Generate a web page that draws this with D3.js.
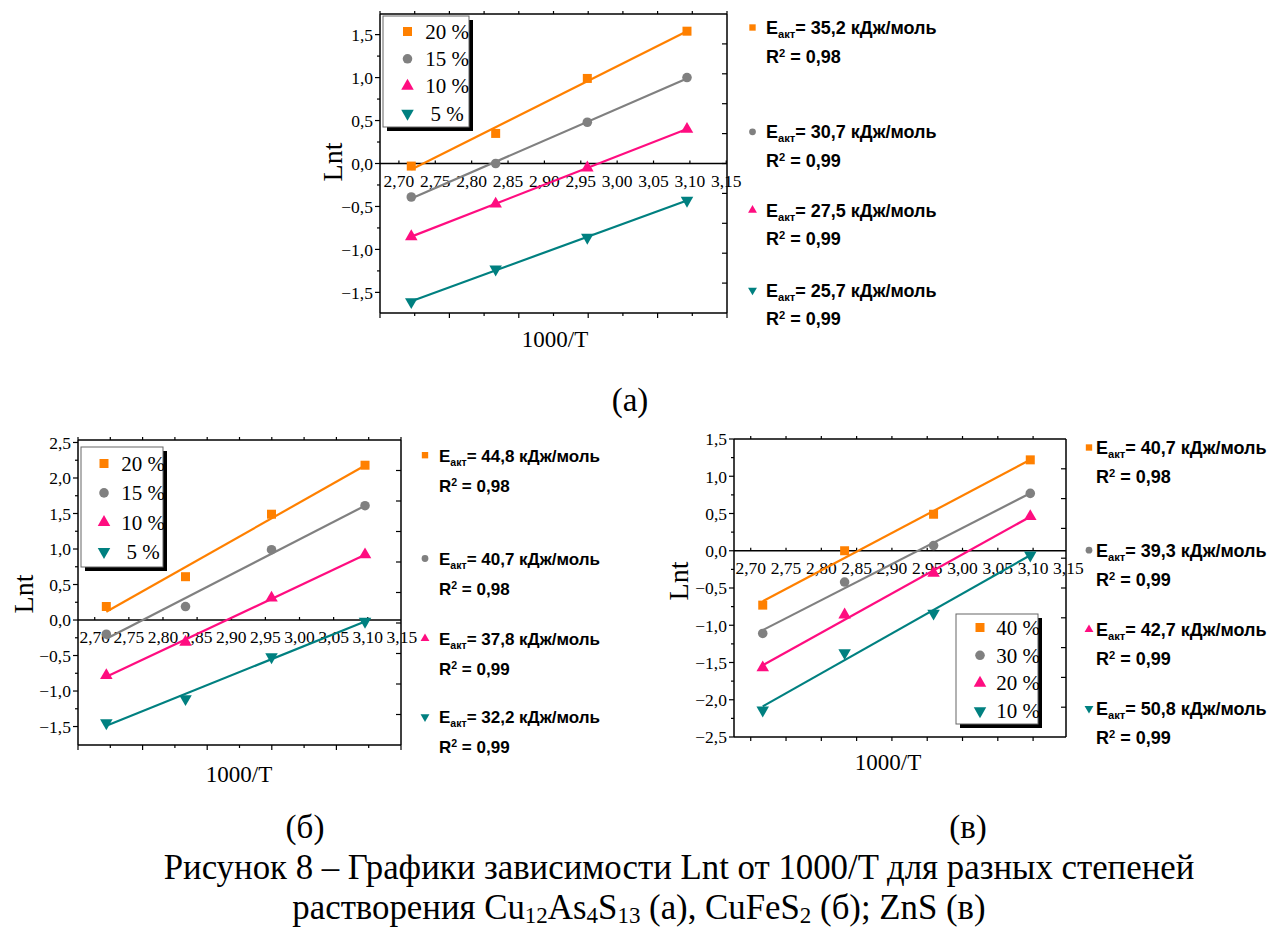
<!DOCTYPE html>
<html>
<head>
<meta charset="utf-8">
<script src="https://cdn.jsdelivr.net/npm/d3@7"></script>
<style>
  html, body { margin: 0; padding: 0; background: #fff; }
  svg { display: block; }
</style>
</head>
<body>
<svg id="fig" width="1267" height="932"></svg>
<script>
// ---- data ----------------------------------------------------------
// reciprocal temperature, 1000/T (K^-1), shared by all three panels
const invT = [2.717, 2.833, 2.959, 3.096];

// (а) Cu12As4S13 — ln t for each dissolution degree
const lnA20 = [-0.03, 0.35, 0.99, 1.54];
const lnA15 = [-0.39, 0.00, 0.48, 1.00];
const lnA10 = [-0.85, -0.47, -0.05, 0.40];
const lnA5  = [-1.61, -1.23, -0.86, -0.43];
const legendA = ["20 %", "15 %", "10 %", "5 %"];
const eaA = ["35,2", "30,7", "27,5", "25,7"];
const r2A = ["0,98", "0,99", "0,99", "0,99"];

// (б) CuFeS2
const lnB20 = [0.19, 0.61, 1.49, 2.18];
const lnB15 = [-0.20, 0.19, 0.99, 1.61];
const lnB10 = [-0.78, -0.31, 0.31, 0.92];
const lnB5  = [-1.45, -1.11, -0.52, -0.02];
const legendB = ["20 %", "15 %", "10 %", "5 %"];
const eaB = ["44,8", "40,7", "37,8", "32,2"];
const r2B = ["0,98", "0,98", "0,99", "0,99"];

// (в) ZnS
const lnC40 = [-0.73, 0.00, 0.49, 1.22];
const lnC30 = [-1.11, -0.42, 0.07, 0.77];
const lnC20 = [-1.57, -0.86, -0.30, 0.46];
const lnC10 = [-2.14, -1.37, -0.84, -0.06];
const legendC = ["40 %", "30 %", "20 %", "10 %"];
const eaC = ["40,7", "39,3", "42,7", "50,8"];
const r2C = ["0,98", "0,99", "0,99", "0,99"];

// axis tick labels
const xTicks = [2.70, 2.75, 2.80, 2.85, 2.90, 2.95, 3.00, 3.05, 3.10, 3.15];
const yTicksA = [-1.5, -1.0, -0.5, 0.0, 0.5, 1.0, 1.5];
const yTicksB = [-1.5, -1.0, -0.5, 0.0, 0.5, 1.0, 1.5, 2.0, 2.5];
const yTicksC = [-2.5, -2.0, -1.5, -1.0, -0.5, 0.0, 0.5, 1.0, 1.5];

// ---- styling -------------------------------------------------------
const colors = ["#ff8000", "#808080", "#ff0d80", "#008080"];
const symbols = [d3.symbolSquare, d3.symbolCircle, d3.symbolTriangle, d3.symbolTriangle];
const symbolRot = [0, 0, 0, 180];
const symbolSize = [81, 72, 68, 68];
const serif = "'Liberation Serif', 'Times New Roman', serif";
const sans = "'Liberation Sans', Arial, sans-serif";
const fmt = v => d3.format(".2f")(v).replace(".", ",");
const fmt1 = v => d3.format(".1f")(v).replace(".", ",");

const svg = d3.select("#fig");

// least-squares line through the points of one series
function fit(xs, ys) {
  const mx = d3.mean(xs), my = d3.mean(ys);
  const sxy = d3.sum(xs, (x, i) => (x - mx) * (ys[i] - my));
  const sxx = d3.sum(xs, x => (x - mx) * (x - mx));
  const k = sxy / sxx;
  return x => my + k * (x - mx);
}

function drawPanel(cfg) {
  const g = svg.append("g");
  const x = d3.scaleLinear().domain(cfg.xDomain).range([cfg.left, cfg.right]);
  const y = d3.scaleLinear().domain(cfg.yDomain).range([cfg.bottom, cfg.top]);
  const line = (x1, y1, x2, y2, w = 1.5) =>
    g.append("line").attr("x1", x1).attr("y1", y1).attr("x2", x2).attr("y2", y2)
      .attr("stroke", "#000").attr("stroke-width", w);

  // frame
  line(cfg.left, cfg.top, cfg.left, cfg.bottom);
  line(cfg.right, cfg.top, cfg.right, cfg.bottom);
  line(cfg.left, cfg.top, cfg.right, cfg.top);
  line(cfg.left, cfg.bottom, cfg.right, cfg.bottom);

  // left axis: labelled major ticks with minor ticks in between
  const yt = cfg.yTicks;
  yt.forEach((v, i) => {
    line(cfg.left - 5, y(v), cfg.left, y(v), 1.2);
    if (i < yt.length - 1) {
      const m = (v + yt[i + 1]) / 2;
      line(cfg.left - 3, y(m), cfg.left, y(m), 1.2);
    }
    g.append("text").attr("x", cfg.left - 7).attr("y", y(v)).attr("dy", "0.36em")
      .attr("text-anchor", "end").attr("font-family", serif).attr("font-size", 17.5)
      .text(fmt1(v));
  });

  // right axis: evenly divided inward ticks
  const ry = d3.scaleLinear().domain([0, 10]).range([cfg.bottom, cfg.top]);
  d3.range(1, 10).forEach(i => line(cfg.right - 5, ry(i), cfg.right, ry(i), 1.2));

  // top / bottom axes
  if (cfg.frameTicks === "divided") {
    const fx = d3.scaleLinear().domain([0, 10]).range([cfg.left, cfg.right]);
    d3.range(0, 11).forEach(i => {
      line(fx(i), cfg.bottom, fx(i), cfg.bottom + (i % 2 ? 3 : 5), 1.2);
      line(fx(i), cfg.top - 3, fx(i), cfg.top, 1.2);
    });
  } else {
    xTicks.filter(v => x(v) <= cfg.right + 0.5).forEach(v => {
      line(x(v), cfg.bottom, x(v), cfg.bottom + 4, 1.2);
      line(x(v), cfg.top - 3, x(v), cfg.top, 1.2);
    });
  }

  // x axis crossing at Lnt = 0 with its labels
  line(cfg.left, y(0), cfg.right, y(0));
  xTicks.forEach(v => {
    if (x(v) <= cfg.right) line(x(v), y(0) - 3, x(v), y(0), 1.2);
    g.append("text").attr("x", x(v)).attr("y", y(0) + 23)
      .attr("text-anchor", "middle").attr("font-family", serif).attr("font-size", 17.5)
      .text(fmt(v));
  });

  // axis titles
  g.append("text").attr("transform", `translate(${cfg.yTitle[0]},${cfg.yTitle[1]}) rotate(-90)`)
    .attr("text-anchor", "middle").attr("dy", "0.35em")
    .attr("font-family", serif).attr("font-size", 28).text("Lnt");
  g.append("text").attr("x", cfg.xTitle[0]).attr("y", cfg.xTitle[1])
    .attr("text-anchor", "middle").attr("font-family", serif).attr("font-size", 23).text("1000/T");

  // fitted lines then markers
  cfg.series.forEach((ys, si) => {
    const f = fit(invT, ys);
    const x0 = invT[0], x1 = invT[invT.length - 1];
    g.append("line").attr("x1", x(x0)).attr("y1", y(f(x0))).attr("x2", x(x1)).attr("y2", y(f(x1)))
      .attr("stroke", colors[si]).attr("stroke-width", 2.2);
  });
  cfg.series.forEach((ys, si) => {
    g.selectAll(null).data(invT).enter().append("path")
      .attr("d", d3.symbol().type(symbols[si]).size(symbolSize[si]))
      .attr("transform", (d, i) => `translate(${x(d)},${y(ys[i])}) rotate(${symbolRot[si]})`)
      .attr("fill", colors[si]);
  });

  // legend box with drop shadow
  const L = cfg.legend;
  g.append("rect").attr("x", L.x + 4).attr("y", L.y + 4).attr("width", L.w).attr("height", L.h).attr("fill", "#000");
  g.append("rect").attr("x", L.x).attr("y", L.y).attr("width", L.w).attr("height", L.h)
    .attr("fill", "#fff").attr("stroke", "#666").attr("stroke-width", 1);
  cfg.legendLabels.forEach((t, si) => {
    const cy = L.y + L.row0 + si * L.step;
    g.append("path").attr("d", d3.symbol().type(symbols[si]).size(symbolSize[si]))
      .attr("transform", `translate(${L.x + L.mx},${cy}) rotate(${symbolRot[si]})`).attr("fill", colors[si]);
    g.append("text").attr("x", L.x + L.tx).attr("y", cy).attr("dy", "0.35em")
      .attr("text-anchor", "middle").attr("font-family", serif).attr("font-size", 21).text(t);
  });

  // activation energy notes
  const N = cfg.notes;
  cfg.ea.forEach((e, si) => {
    const by = N.base[si];
    g.append("path").attr("d", d3.symbol().type(symbols[si]).size(symbolSize[si] * 0.5))
      .attr("transform", `translate(${N.mx},${by - 6.5}) rotate(${symbolRot[si]})`).attr("fill", colors[si]);
    const t1 = g.append("text").attr("x", N.tx).attr("y", by)
      .attr("font-family", sans).attr("font-weight", "bold").attr("font-size", N.fs);
    t1.append("tspan").text("E");
    t1.append("tspan").attr("font-size", N.fs * 0.62).attr("dy", 4).text("акт");
    t1.append("tspan").attr("dy", -4).text(`= ${e} кДж/моль`);
    const t2 = g.append("text").attr("x", N.tx).attr("y", by + N.gap)
      .attr("font-family", sans).attr("font-weight", "bold").attr("font-size", N.fs);
    t2.append("tspan").text("R");
    t2.append("tspan").attr("font-size", N.fs * 0.62).attr("dy", -6).text("2");
    t2.append("tspan").attr("dy", 6).text(` = ${cfg.r2[si]}`);
  });
}

drawPanel({
  left: 380, right: 727, top: 14, bottom: 313,
  xDomain: [2.674, 3.151], yDomain: [-1.74, 1.74], yTicks: yTicksA,
  frameTicks: "divided",
  series: [lnA20, lnA15, lnA10, lnA5], legendLabels: legendA, ea: eaA, r2: r2A,
  yTitle: [332, 162], xTitle: [555, 347],
  legend: { x: 383, y: 16, w: 86, h: 111, row0: 15.5, step: 27.3, mx: 24.5, tx: 64 },
  notes: { mx: 752.5, tx: 766, base: [34, 138.3, 216.7, 296.7], gap: 28.5, fs: 18 }
});

drawPanel({
  left: 78, right: 401, top: 440, bottom: 745,
  xDomain: [2.6755, 3.1487], yDomain: [-1.76, 2.535], yTicks: yTicksB,
  frameTicks: "divided",
  series: [lnB20, lnB15, lnB10, lnB5], legendLabels: legendB, ea: eaB, r2: r2B,
  yTitle: [23, 594], xTitle: [239, 782],
  legend: { x: 81, y: 447, w: 82, h: 120, row0: 16.5, step: 29.4, mx: 23, tx: 62 },
  notes: { mx: 425, tx: 439, base: [461.7, 565, 645, 723.3], gap: 30, fs: 17 }
});

drawPanel({
  left: 734, right: 1066, top: 439, bottom: 737,
  xDomain: [2.6763, 3.1466], yDomain: [-2.5, 1.5], yTicks: yTicksC,
  frameTicks: "scale",
  series: [lnC40, lnC30, lnC20, lnC10], legendLabels: legendC, ea: eaC, r2: r2C,
  yTitle: [678, 581], xTitle: [888, 770],
  legend: { x: 956, y: 614, w: 82, h: 110, row0: 13.5, step: 27.8, mx: 24, tx: 62 },
  notes: { mx: 1089, tx: 1096, base: [454, 556.7, 636, 715], gap: 29, fs: 18 }
});

// panel letters and figure caption
const cap = svg.append("g").attr("font-family", serif).attr("fill", "#000");
cap.append("text").attr("x", 630).attr("y", 411).attr("text-anchor", "middle").attr("font-size", 33).text("(а)");
cap.append("text").attr("x", 305).attr("y", 838).attr("text-anchor", "middle").attr("font-size", 33).text("(б)");
cap.append("text").attr("x", 968).attr("y", 838).attr("text-anchor", "middle").attr("font-size", 33).text("(в)");
cap.append("text").attr("x", 679).attr("y", 879).attr("text-anchor", "middle").attr("font-size", 34.8)
  .text("Рисунок 8 – Графики зависимости Lnt от 1000/T для разных степеней");
const c2 = cap.append("text").attr("x", 639).attr("y", 919).attr("text-anchor", "middle").attr("font-size", 34.8);
const parts = [["растворения Cu", 0], ["12", 1], ["As", 0], ["4", 1], ["S", 0], ["13", 1],
               [" (а), CuFeS", 0], ["2", 1], [" (б); ZnS (в)", 0]];
let low = false;
parts.forEach(([t, sub]) => {
  const ts = c2.append("tspan").text(t);
  if (sub && !low) { ts.attr("dy", 4).attr("font-size", 23); low = true; }
  else if (sub) { ts.attr("font-size", 23); }
  else if (!sub && low) { ts.attr("dy", -4); low = false; }
});
</script>
</body>
</html>
